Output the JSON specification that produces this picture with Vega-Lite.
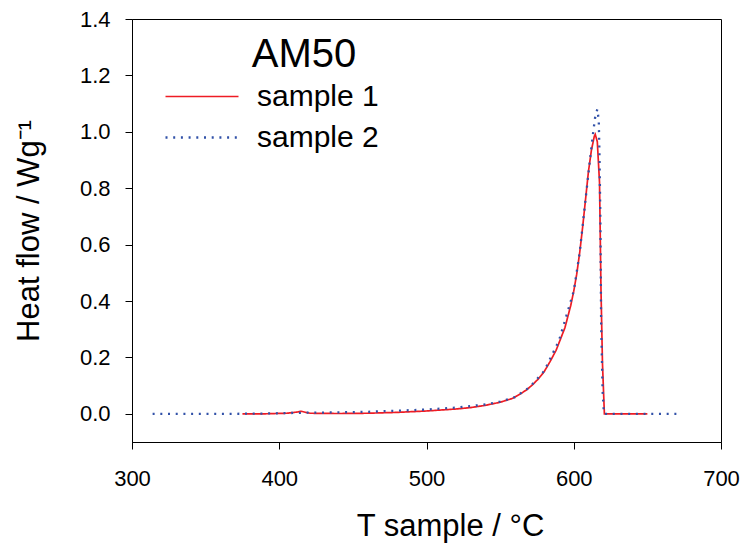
{
  "$schema": "https://vega.github.io/schema/vega-lite/v6.json",
  "width": 589,
  "height": 423,
  "autosize": {"type": "none"},
  "padding": {"left": 132, "top": 19, "right": 25, "bottom": 102},
  "background": "white",
  "config": {
    "font": "Liberation Sans",
    "view": {"stroke": "#000", "strokeWidth": 1},
    "axis": {
      "domainColor": "#000",
      "tickColor": "#000",
      "labelColor": "#000",
      "titleColor": "#000",
      "labelFont": "Liberation Sans",
      "titleFont": "Liberation Sans",
      "labelFontSize": 22,
      "titleFontSize": 31,
      "titleFontWeight": "normal",
      "tickSize": 7,
      "grid": false
    }
  },
  "layer": [
    {
      "data": {
        "values": [
          {"T": 375, "hf": 0.0, "sample": "sample 1"},
          {"T": 390, "hf": 0.0, "sample": "sample 1"},
          {"T": 405, "hf": 0.002, "sample": "sample 1"},
          {"T": 412, "hf": 0.006, "sample": "sample 1"},
          {"T": 415, "hf": 0.009, "sample": "sample 1"},
          {"T": 418, "hf": 0.005, "sample": "sample 1"},
          {"T": 421, "hf": 0.002, "sample": "sample 1"},
          {"T": 440, "hf": 0.001, "sample": "sample 1"},
          {"T": 460, "hf": 0.002, "sample": "sample 1"},
          {"T": 480, "hf": 0.005, "sample": "sample 1"},
          {"T": 500, "hf": 0.01, "sample": "sample 1"},
          {"T": 520, "hf": 0.017, "sample": "sample 1"},
          {"T": 530, "hf": 0.022, "sample": "sample 1"},
          {"T": 540, "hf": 0.03, "sample": "sample 1"},
          {"T": 550, "hf": 0.041, "sample": "sample 1"},
          {"T": 558, "hf": 0.054, "sample": "sample 1"},
          {"T": 563, "hf": 0.068, "sample": "sample 1"},
          {"T": 568, "hf": 0.085, "sample": "sample 1"},
          {"T": 572, "hf": 0.103, "sample": "sample 1"},
          {"T": 576, "hf": 0.124, "sample": "sample 1"},
          {"T": 580, "hf": 0.15, "sample": "sample 1"},
          {"T": 584, "hf": 0.186, "sample": "sample 1"},
          {"T": 588, "hf": 0.225, "sample": "sample 1"},
          {"T": 591, "hf": 0.265, "sample": "sample 1"},
          {"T": 594, "hf": 0.305, "sample": "sample 1"},
          {"T": 596, "hf": 0.345, "sample": "sample 1"},
          {"T": 598, "hf": 0.385, "sample": "sample 1"},
          {"T": 600, "hf": 0.435, "sample": "sample 1"},
          {"T": 602, "hf": 0.495, "sample": "sample 1"},
          {"T": 604, "hf": 0.57, "sample": "sample 1"},
          {"T": 606, "hf": 0.66, "sample": "sample 1"},
          {"T": 608, "hf": 0.76, "sample": "sample 1"},
          {"T": 610, "hf": 0.86, "sample": "sample 1"},
          {"T": 612, "hf": 0.935, "sample": "sample 1"},
          {"T": 614, "hf": 0.985, "sample": "sample 1"},
          {"T": 614.6, "hf": 0.991, "sample": "sample 1"},
          {"T": 616, "hf": 0.965, "sample": "sample 1"},
          {"T": 617.5, "hf": 0.82, "sample": "sample 1"},
          {"T": 618.5, "hf": 0.44, "sample": "sample 1"},
          {"T": 619.5, "hf": 0.18, "sample": "sample 1"},
          {"T": 620.8, "hf": 0.0, "sample": "sample 1"},
          {"T": 630, "hf": 0.0, "sample": "sample 1"},
          {"T": 640, "hf": 0.0, "sample": "sample 1"},
          {"T": 650, "hf": 0.0, "sample": "sample 1"},
          {"T": 314, "hf": 0.0, "sample": "sample 2"},
          {"T": 330, "hf": 0.0, "sample": "sample 2"},
          {"T": 350, "hf": 0.0, "sample": "sample 2"},
          {"T": 370, "hf": 0.0, "sample": "sample 2"},
          {"T": 390, "hf": 0.001, "sample": "sample 2"},
          {"T": 410, "hf": 0.003, "sample": "sample 2"},
          {"T": 420, "hf": 0.004, "sample": "sample 2"},
          {"T": 440, "hf": 0.005, "sample": "sample 2"},
          {"T": 460, "hf": 0.007, "sample": "sample 2"},
          {"T": 480, "hf": 0.011, "sample": "sample 2"},
          {"T": 500, "hf": 0.015, "sample": "sample 2"},
          {"T": 520, "hf": 0.022, "sample": "sample 2"},
          {"T": 540, "hf": 0.033, "sample": "sample 2"},
          {"T": 550, "hf": 0.043, "sample": "sample 2"},
          {"T": 560, "hf": 0.059, "sample": "sample 2"},
          {"T": 570, "hf": 0.094, "sample": "sample 2"},
          {"T": 580, "hf": 0.152, "sample": "sample 2"},
          {"T": 590, "hf": 0.26, "sample": "sample 2"},
          {"T": 600, "hf": 0.435, "sample": "sample 2"},
          {"T": 604, "hf": 0.57, "sample": "sample 2"},
          {"T": 608, "hf": 0.76, "sample": "sample 2"},
          {"T": 611, "hf": 0.9, "sample": "sample 2"},
          {"T": 613, "hf": 0.99, "sample": "sample 2"},
          {"T": 614.5, "hf": 1.05, "sample": "sample 2"},
          {"T": 616, "hf": 1.08, "sample": "sample 2"},
          {"T": 617, "hf": 1.04, "sample": "sample 2"},
          {"T": 617.5, "hf": 0.91, "sample": "sample 2"},
          {"T": 618.1, "hf": 0.68, "sample": "sample 2"},
          {"T": 618.6, "hf": 0.32, "sample": "sample 2"},
          {"T": 619.6, "hf": 0.08, "sample": "sample 2"},
          {"T": 620.5, "hf": 0.0, "sample": "sample 2"},
          {"T": 630, "hf": 0.0, "sample": "sample 2"},
          {"T": 650, "hf": 0.0, "sample": "sample 2"},
          {"T": 673, "hf": 0.0, "sample": "sample 2"}
        ]
      },
      "mark": {"type": "line", "clip": true},
      "encoding": {
        "x": {
          "field": "T",
          "type": "quantitative",
          "scale": {"domain": [300, 700], "nice": false, "zero": false},
          "axis": {
            "title": "T sample / °C",
            "values": [300, 400, 500, 600, 700],
            "format": "d",
            "labelPadding": 19,
            "titlePadding": 22,
            "titleX": 318,
            "labelFlush": false
          }
        },
        "y": {
          "field": "hf",
          "type": "quantitative",
          "scale": {"domain": [-0.1, 1.4], "nice": false, "zero": false},
          "axis": {
            "title": "Heat flow / Wg⁻¹",
            "values": [0, 0.2, 0.4, 0.6, 0.8, 1.0, 1.2, 1.4],
            "format": ".1f",
            "labelPadding": 15,
            "titlePadding": 34,
            "labelFlush": false
          }
        },
        "color": {
          "field": "sample",
          "type": "nominal",
          "scale": {"domain": ["sample 1", "sample 2"], "range": ["#ee1c24", "#3151a8"]},
          "legend": {
            "title": null,
            "orient": "none",
            "legendX": 14,
            "legendY": 58,
            "padding": 0,
            "symbolType": "M0,0L4,0",
            "symbolSize": 1332,
            "symbolStrokeWidth": 1.5,
            "labelFontSize": 30,
            "labelFont": "Liberation Sans",
            "labelColor": "#000",
            "labelOffset": 72,
            "labelLimit": 300,
            "rowPadding": 6
          }
        },
        "strokeDash": {
          "field": "sample",
          "type": "nominal",
          "scale": {"domain": ["sample 1", "sample 2"], "range": [[1, 0], [2, 5.7]]},
          "legend": null
        },
        "strokeWidth": {
          "field": "sample",
          "type": "nominal",
          "scale": {"domain": ["sample 1", "sample 2"], "range": [1.7, 2.3]},
          "legend": null
        }
      }
    },
    {
      "data": {"values": [{"label": "AM50"}]},
      "mark": {
        "type": "text",
        "align": "left",
        "baseline": "alphabetic",
        "fontSize": 40,
        "font": "Liberation Sans",
        "color": "#000"
      },
      "encoding": {
        "x": {"datum": 381.3, "type": "quantitative"},
        "y": {"datum": 1.23, "type": "quantitative"},
        "text": {"field": "label", "type": "nominal"}
      }
    }
  ]
}
